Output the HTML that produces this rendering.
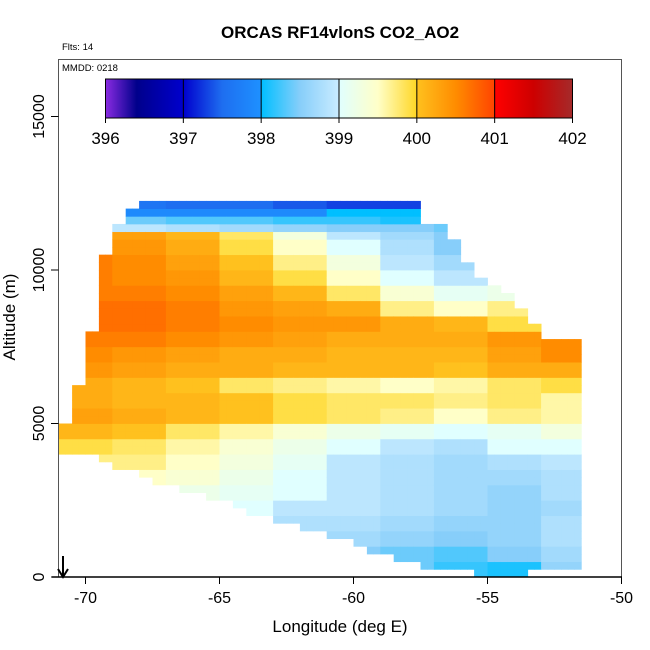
<!DOCTYPE html>
<html><head><meta charset="utf-8"><style>
html,body{margin:0;padding:0;background:#fff;}
svg{display:block;font-family:"Liberation Sans",sans-serif;}
</style></head><body>
<svg id="chart" width="650" height="650" viewBox="0 0 650 650">
<text x="340" y="38" text-anchor="middle" font-size="17" font-weight="bold">ORCAS RF14vlonS CO2_AO2</text>
<text x="62" y="50" font-size="9.5">Flts: 14</text>
<g id="cells"></g>
<rect x="58.5" y="59.5" width="563" height="517.5" fill="none" stroke="#555" stroke-width="1"/>
<text x="62" y="71" font-size="9.5">MMDD: 0218</text>
<defs><linearGradient id="cbg" x1="0" x2="1" y1="0" y2="0"></linearGradient></defs>
<rect id="cbar" x="105.5" y="79" width="467" height="39" fill="url(#cbg)" stroke="#000"/>
<g id="cbticks"></g>
<g id="axes"></g>
<text x="340" y="632" text-anchor="middle" font-size="17">Longitude (deg E)</text>
<text transform="translate(15,317) rotate(-90)" text-anchor="middle" font-size="17">Altitude (m)</text>
<g><line x1="63" y1="556" x2="63" y2="576" stroke="#000" stroke-width="2"/><path d="M58,569 L63,577 L68,569" fill="none" stroke="#000" stroke-width="2"/></g>
</svg>
<script>
const colStart = [-71,-70.5,-70,-69.5,-69,-68.5,-68,-67.5,-67,-66.5,-66,-65.5,-65,-64.5,-64,-63.5,-63,-62.5,-62,-61.5,-61,-60.5,-60,-59.5,-59,-58.5,-58,-57.5,-57,-56.5,-56,-55.5,-55,-54.5,-54,-53.5,-53,-52.5,-52];
const colTop = [5000,6250,8000,10500,11500,12000,12250,12250,12250,12250,12250,12250,12250,12250,12250,12250,12250,12250,12250,12250,12250,12250,12250,12250,12250,12250,12250,11500,11500,11000,10250,9750,9500,9250,8750,8250,7750,7750,7750];
const colBottom = [4000,4000,4000,3750,3500,3500,3250,3000,3000,2750,2750,2500,2500,2250,2000,2000,1750,1750,1500,1500,1250,1250,1000,750,750,500,500,250,250,250,250,0,0,0,0,250,250,250,250];
const gridLon = [-71,-69,-67,-65,-63,-61,-59,-57,-55,-53];
const gridAlt = [0,500,1000,1500,2000,2500,3000,3500,4000,4500,5000,5500,6000,6500,7000,7500,8000,8500,9000,9500,10000,10500,11000,11250,11500,11750,12000];
const co2 = [
[398.8,398.8,398.8,398.8,398.6,398.5,398.4,398.2,398.1,398.6],
[398.8,398.8,398.8,398.7,398.6,398.5,398.4,398.3,398.5,398.7],
[398.9,398.9,398.9,398.8,398.7,398.7,398.6,398.5,398.6,398.8],
[399.0,399.0,399.0,398.9,398.8,398.8,398.7,398.6,398.6,398.8],
[399.1,399.1,399.1,399.0,398.9,398.9,398.8,398.7,398.6,398.7],
[399.3,399.3,399.2,399.1,399.0,398.9,398.8,398.7,398.6,398.8],
[399.5,399.5,399.4,399.2,399.0,398.9,398.8,398.7,398.7,398.8],
[399.7,399.7,399.5,399.3,399.1,398.9,398.8,398.7,398.8,398.9],
[399.9,399.8,399.6,399.4,399.2,399.0,398.9,398.8,399.0,399.0],
[400.1,400.0,399.8,399.6,399.4,399.2,399.1,399.0,399.1,399.3],
[400.3,400.2,400.1,400.0,399.9,399.8,399.7,399.5,399.7,399.6],
[400.2,400.1,400.1,400.0,399.9,399.8,399.8,399.7,399.8,399.6],
[400.2,400.1,400.0,399.8,399.7,399.6,399.5,399.6,399.8,399.9],
[400.4,400.3,400.2,400.2,400.1,400.1,400.1,400.0,400.2,400.2],
[400.5,400.4,400.3,400.2,400.2,400.1,400.1,400.1,400.3,400.5],
[400.6,400.6,400.5,400.4,400.3,400.2,400.2,400.2,400.4,400.5],
[400.7,400.7,400.6,400.5,400.4,400.4,400.2,400.1,399.9,400.0],
[400.7,400.7,400.6,400.4,400.3,400.2,399.7,399.5,399.7,399.8],
[400.6,400.6,400.5,400.3,400.1,399.8,399.4,399.1,399.2,399.3],
[400.6,400.5,400.4,400.1,399.9,399.5,399.0,398.9,398.9,399.0],
[400.6,400.5,400.3,400.0,399.7,399.3,398.9,398.7,398.8,398.9],
[400.5,400.4,400.2,399.9,399.5,399.0,398.8,398.5,398.6,398.7],
[400.4,400.3,400.1,399.8,399.3,398.9,398.7,398.5,398.5,398.5],
[399.0,398.9,398.8,398.7,398.6,398.5,398.5,398.4,398.4,398.4],
[398.4,398.4,398.3,398.3,398.2,398.2,398.1,398.0,398.0,398.0],
[397.9,397.9,397.9,397.9,397.9,398.0,398.0,397.9,397.9,397.9],
[397.6,397.6,397.5,397.5,397.4,397.3,397.3,397.8,397.8,397.8]
];
const cbTicks = [396,397,398,399,400,401,402];
const xTicks = [-70,-65,-60,-55,-50];
const yTicks = [0,5000,10000,15000];

const NS='http://www.w3.org/2000/svg';
const xS = lon => 85.5 + (lon + 70) * 26.8;
const yS = alt => 577 - alt * 0.0307;
const stops = [[396,[138,43,226]],[396.4,[0,0,139]],[397,[0,0,205]],[397.5,[30,110,240]],[397.99,[30,144,255]],[398,[0,191,255]],[398.5,[135,206,250]],[398.99,[200,235,255]],[399,[224,255,255]],[399.5,[255,255,200]],[399.99,[255,215,40]],[400,[255,193,30]],[400.5,[255,140,0]],[400.99,[255,69,0]],[401,[255,0,0]],[401.5,[205,0,0]],[402,[165,42,42]]];
function col(v){
  if(v<=stops[0][0]) return 'rgb('+stops[0][1]+')';
  for(let i=1;i<stops.length;i++){
    if(v<=stops[i][0]){const a=stops[i-1],b=stops[i];const t=(v-a[0])/(b[0]-a[0]);
      return 'rgb('+a[1].map((c,k)=>Math.round(c+(b[1][k]-c)*t)).join(',')+')';}
  }
  return 'rgb('+stops[stops.length-1][1]+')';
}
function mk(tag,attrs,parent){const e=document.createElementNS(NS,tag);for(const k in attrs)e.setAttribute(k,attrs[k]);parent.appendChild(e);return e;}
const grad=document.getElementById('cbg');
stops.forEach(s=>{mk('stop',{offset:((s[0]-396)/6*100)+'%','stop-color':col(s[0])},grad);});
const cells=document.getElementById('cells');
function gi(lon){let b=0;for(let i=0;i<gridLon.length;i++){if(lon>=gridLon[i]-0.001)b=i;}return b;}
function ai(alt){let b=0;for(let i=0;i<gridAlt.length;i++){if(alt>=gridAlt[i]-0.001)b=i;}return b;}
for(let c=0;c<colStart.length;c++){
  for(let sub=0;sub<2;sub++){
    const lon=colStart[c]+sub*0.25;
    for(let alt=colBottom[c];alt<colTop[c];alt+=250){
      const v=co2[ai(alt)][gi(lon)];
      const x0=xS(lon),x1=xS(lon+0.25),y0=yS(alt+250),y1=yS(alt);
      const r=mk('rect',{x:x0.toFixed(2),y:y0.toFixed(2),width:(x1-x0+0.4).toFixed(2),height:(y1-y0+0.4).toFixed(2),fill:col(v)},cells);
      
      
    }
  }
}
const cbt=document.getElementById('cbticks');
cbTicks.forEach(t=>{
  const x=105.5+(t-396)/6*467;
  mk('line',{x1:x,x2:x,y1:79,y2:123,stroke:'#000','stroke-width':1},cbt);
  const tx=mk('text',{x:x,y:144,'text-anchor':'middle','font-size':17},cbt);tx.textContent=t;
  
  
});
const ax=document.getElementById('axes');
xTicks.forEach(t=>{
  const x=xS(t);
  mk('line',{x1:x,x2:x,y1:577,y2:584,stroke:'#000'},ax);
  const tx=mk('text',{x:x,y:603,'text-anchor':'middle','font-size':16},ax);tx.textContent=t;
  
  
});
yTicks.forEach(t=>{
  const y=yS(t);
  mk('line',{x1:51,x2:58.5,y1:y,y2:y,stroke:'#000'},ax);
  const tx=mk('text',{transform:'translate(44,'+y+') rotate(-90)','text-anchor':'middle','font-size':16},ax);tx.textContent=t;
  
  
});
mk('line',{x1:52,x2:622,y1:577,y2:577,stroke:'#000','stroke-width':1.5},ax);
</script>
</body></html>
